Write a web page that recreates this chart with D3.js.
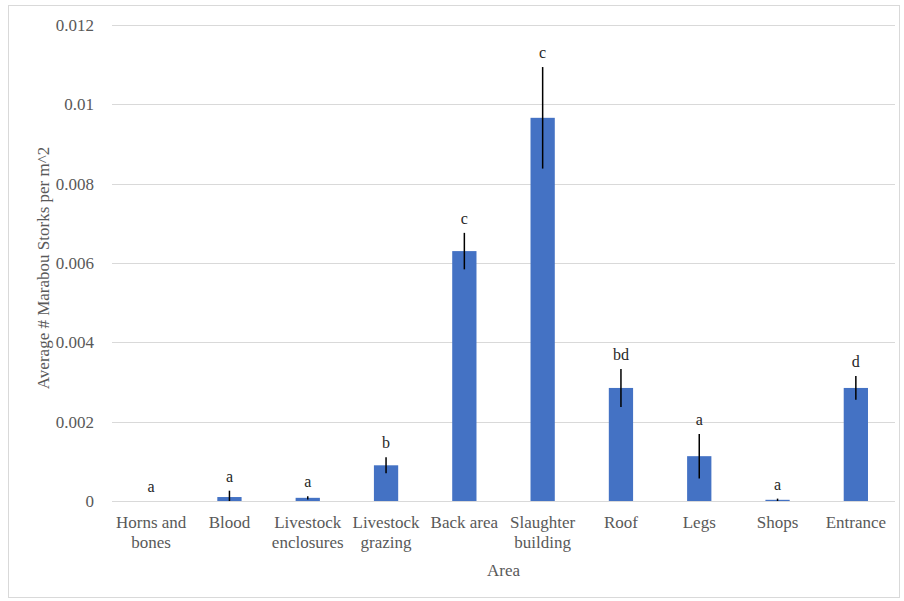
<!DOCTYPE html>
<html>
<head>
<meta charset="utf-8">
<script src="https://cdn.jsdelivr.net/npm/d3@7"></script>
<style>
  body { margin: 0; background: #fff; }
</style>
</head>
<body>
<div id="chart"></div>
<script>
// data
const areas = ["Horns and bones", "Blood", "Livestock enclosures", "Livestock grazing",
  "Back area", "Slaughter building", "Roof", "Legs", "Shops", "Entrance"];
const areaLines = [["Horns and", "bones"], ["Blood"], ["Livestock", "enclosures"], ["Livestock", "grazing"],
  ["Back area"], ["Slaughter", "building"], ["Roof"], ["Legs"], ["Shops"], ["Entrance"]];
const means = [0, 0.0001, 0.00008, 0.0009, 0.0063, 0.00966, 0.00285, 0.00113, 0.00003, 0.00285];
const errs = [0, 0.00016, 0.00004, 0.0002, 0.00046, 0.00128, 0.00048, 0.00056, 0.00003, 0.0003];
const letters = ["a", "a", "a", "b", "c", "c", "bd", "a", "a", "d"];
const yTicks = [0, 0.002, 0.004, 0.006, 0.008, 0.01, 0.012];

const width = 904, height = 601;
const margin = {top: 25, right: 9, bottom: 100, left: 112};
const serif = "Liberation Serif, serif";

const svg = d3.select("#chart")
  .append("svg")
  .attr("width", width)
  .attr("height", height);

// soft white glow behind error bars
const defs = svg.append("defs");
defs.append("filter").attr("id", "glow")
  .attr("x", "-200%").attr("y", "-20%").attr("width", "500%").attr("height", "140%")
  .append("feGaussianBlur").attr("stdDeviation", 2.5);

// chart area border
svg.append("rect")
  .attr("x", 8.5).attr("y", 5.5)
  .attr("width", 891).attr("height", 592)
  .attr("fill", "none")
  .attr("stroke", "#d9d9d9");

const x = d3.scaleBand()
  .domain(d3.range(areas.length))
  .range([margin.left, width - margin.right])
  .paddingInner(0.69)
  .paddingOuter(0.345);

const y = d3.scaleLinear()
  .domain([0, 0.012])
  .range([height - margin.bottom, margin.top]);

// gridlines
svg.append("g")
  .selectAll("line")
  .data(yTicks)
  .enter()
  .append("line")
    .attr("x1", margin.left)
    .attr("x2", width - margin.right)
    .attr("y1", d => Math.round(y(d)) + 0.5)
    .attr("y2", d => Math.round(y(d)) + 0.5)
    .attr("stroke", "#d9d9d9")
    .attr("stroke-width", 1);

// y axis labels
const yAxis = svg.append("g")
  .attr("transform", `translate(${margin.left - 15}, 0)`)
  .call(d3.axisLeft(y).tickValues(yTicks).tickSize(0).tickFormat(d => d === 0 ? "0" : String(+d.toFixed(3))));
yAxis.select(".domain").remove();
yAxis.selectAll("text")
  .style("font-family", serif)
  .style("font-size", "17px")
  .attr("fill", "#595959");

// bars
svg.selectAll(".bar")
  .data(means)
  .enter()
  .append("rect")
    .attr("class", "bar")
    .attr("x", (d, i) => x(i))
    .attr("width", x.bandwidth())
    .attr("y", d => y(d))
    .attr("height", d => y(0) - y(d))
    .attr("fill", "#4472c4");

// error bar glow
svg.selectAll(".glow")
  .data(means)
  .enter()
  .append("line")
    .attr("class", "glow")
    .attr("x1", (d, i) => x(i) + x.bandwidth() / 2)
    .attr("x2", (d, i) => x(i) + x.bandwidth() / 2)
    .attr("y1", (d, i) => y(d + errs[i]))
    .attr("y2", (d, i) => y(Math.max(0, d - errs[i])))
    .attr("stroke", "#ffffff")
    .attr("stroke-width", 5)
    .attr("filter", "url(#glow)")
    .attr("opacity", 0.9);

// error bars
svg.selectAll(".err")
  .data(means)
  .enter()
  .append("line")
    .attr("class", "err")
    .attr("x1", (d, i) => x(i) + x.bandwidth() / 2)
    .attr("x2", (d, i) => x(i) + x.bandwidth() / 2)
    .attr("y1", (d, i) => y(d + errs[i]))
    .attr("y2", (d, i) => y(Math.max(0, d - errs[i])))
    .attr("stroke", "#000")
    .attr("stroke-width", 1.5);

// significance letters
svg.selectAll(".letter")
  .data(letters)
  .enter()
  .append("text")
    .attr("class", "letter")
    .attr("x", (d, i) => x(i) + x.bandwidth() / 2)
    .attr("y", (d, i) => y(means[i] + errs[i]) - 9)
    .attr("text-anchor", "middle")
    .style("font-family", serif)
    .style("font-size", "16px")
    .attr("fill", "#262626")
    .text(d => d);

// x category labels
const xLabels = svg.append("g")
  .selectAll("text")
  .data(areaLines)
  .enter()
  .append("text")
    .attr("x", (d, i) => x(i) + x.bandwidth() / 2)
    .attr("y", 528)
    .attr("text-anchor", "middle")
    .style("font-family", serif)
    .style("font-size", "17px")
    .attr("fill", "#595959");
xLabels.selectAll("tspan")
  .data(d => d)
  .enter()
  .append("tspan")
    .attr("x", function () { return d3.select(this.parentNode).attr("x"); })
    .attr("dy", (d, i) => i === 0 ? 0 : 20)
    .text(d => d);

// axis titles
svg.append("text")
  .attr("x", (margin.left + width - margin.right) / 2)
  .attr("y", 576)
  .attr("text-anchor", "middle")
  .style("font-family", serif)
  .style("font-size", "17px")
  .attr("fill", "#595959")
  .text("Area");

svg.append("text")
  .attr("transform", `translate(49, ${(margin.top + height - margin.bottom) / 2 + 5}) rotate(-90)`)
  .attr("text-anchor", "middle")
  .style("font-family", serif)
  .style("font-size", "17px")
  .attr("fill", "#595959")
  .text("Average # Marabou Storks per m^2");
</script>
</body>
</html>
